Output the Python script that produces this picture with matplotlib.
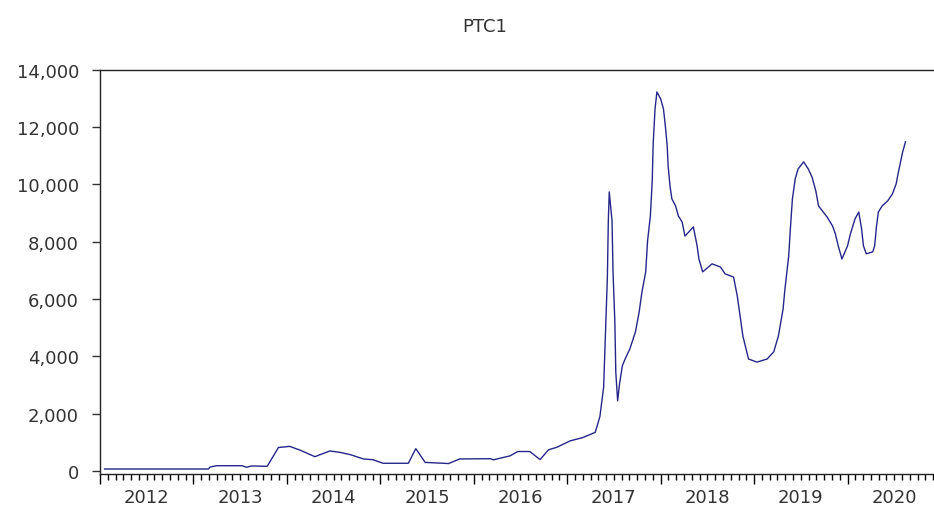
import numpy as np
import matplotlib
matplotlib.use("Agg")
import matplotlib.pyplot as plt
import matplotlib.ticker as mticker
import matplotlib.transforms as mtransforms

# PTC1 series (time as decimal year)
dates = [2012.05, 2013.16, 2013.18, 2013.25, 2013.52, 2013.57, 2013.62, 2013.79,
         2013.91, 2014.03, 2014.14, 2014.30, 2014.46, 2014.57, 2014.68, 2014.82,
         2014.92, 2015.03, 2015.30, 2015.38, 2015.48, 2015.61, 2015.73, 2015.85,
         2016.18, 2016.21, 2016.39, 2016.47, 2016.60, 2016.71, 2016.80, 2016.89,
         2017.03, 2017.17, 2017.30, 2017.35, 2017.39, 2017.41, 2017.43, 2017.44,
         2017.45, 2017.48, 2017.49, 2017.51, 2017.52, 2017.54, 2017.56, 2017.59,
         2017.62, 2017.67, 2017.73, 2017.77, 2017.80, 2017.84, 2017.86, 2017.89,
         2017.91, 2017.92, 2017.94, 2017.96, 2018.00, 2018.03, 2018.05, 2018.07,
         2018.08, 2018.10, 2018.12, 2018.16, 2018.19, 2018.23, 2018.26, 2018.30,
         2018.35, 2018.39, 2018.41, 2018.45, 2018.55, 2018.64, 2018.69, 2018.78,
         2018.82, 2018.85, 2018.88, 2018.94, 2019.03, 2019.14, 2019.21, 2019.26,
         2019.31, 2019.33, 2019.37, 2019.39, 2019.41, 2019.44, 2019.47, 2019.53,
         2019.58, 2019.62, 2019.66, 2019.69, 2019.73, 2019.78, 2019.84, 2019.87,
         2019.90, 2019.94, 2020.00, 2020.03, 2020.08, 2020.12, 2020.15, 2020.17,
         2020.20, 2020.27, 2020.29, 2020.31, 2020.33, 2020.37, 2020.43, 2020.48,
         2020.52, 2020.54, 2020.59, 2020.62]
values = [70, 70, 140, 185, 185, 130, 175, 165,
          820, 860, 730, 500, 700, 650, 570, 420,
          395, 270, 270, 780, 300, 280, 260, 420,
          430, 390, 530, 680, 680, 400, 740, 830,
          1050, 1170, 1350, 1900, 2930, 4850, 6770, 8730,
          9740, 8730, 6980, 5200, 3450, 2450, 3040, 3670,
          3910, 4260, 4850, 5550, 6250, 6950, 8030, 8900,
          10130, 11420, 12640, 13230, 12990, 12640, 12050, 11350,
          10650, 9950, 9500, 9250, 8900, 8690, 8200, 8340,
          8520, 7860, 7400, 6950, 7230, 7120, 6880, 6770,
          6110, 5410, 4710, 3910, 3800, 3910, 4160, 4710,
          5650, 6350, 7500, 8550, 9500, 10200, 10540, 10790,
          10540, 10260, 9780, 9250, 9080, 8870, 8550, 8270,
          7860, 7400, 7860, 8270, 8800, 9040, 8450, 7860,
          7580, 7650, 7860, 8550, 9040, 9250, 9430, 9670,
          10020, 10370, 11140, 11490]

years = list(range(2012, 2022))
year_labels = [str(y) for y in range(2012, 2021)]
y_ticks = [0, 2000, 4000, 6000, 8000, 10000, 12000, 14000]

plt.rcParams['font.family'] = ['DejaVu Sans']

fig = plt.figure(figsize=(9.34, 5.10), dpi=100)
ax = fig.add_axes([0.107, 0.0686, 0.9005, 0.7924])

ax.plot(dates, values, color="#26268a", linewidth=1.0)

ax.set_xlim(2012, 2021)
ax.set_ylim(-105, 14000)

ax.set_yticks(y_ticks)
ax.yaxis.set_major_formatter(mticker.StrMethodFormatter("{x:,.0f}"))
ax.tick_params(axis="y", direction="out", length=6, width=1, labelsize=13,
               pad=9, colors="#333333")

ax.set_xticks(years)
ax.set_xticklabels([])
ax.set_xticks(np.arange(2012, 2021, 1 / 12), minor=True)
ax.tick_params(axis="x", which="major", direction="out", length=7, width=1)
ax.tick_params(axis="x", which="minor", direction="out", length=4, width=1)

trans = mtransforms.blended_transform_factory(ax.transData, ax.transAxes)
for lab in year_labels:
    ax.text(int(lab) + 0.5, -0.058, lab, transform=trans, ha="center", va="center",
            fontsize=13, color="#333333")

for s in ax.spines.values():
    s.set_color("#222222")
    s.set_linewidth(1.0)

fig.text(0.519, 0.947, "PTC1", ha="center", va="center", fontsize=13, color="#333333")

fig.savefig("out.png", dpi=100)
